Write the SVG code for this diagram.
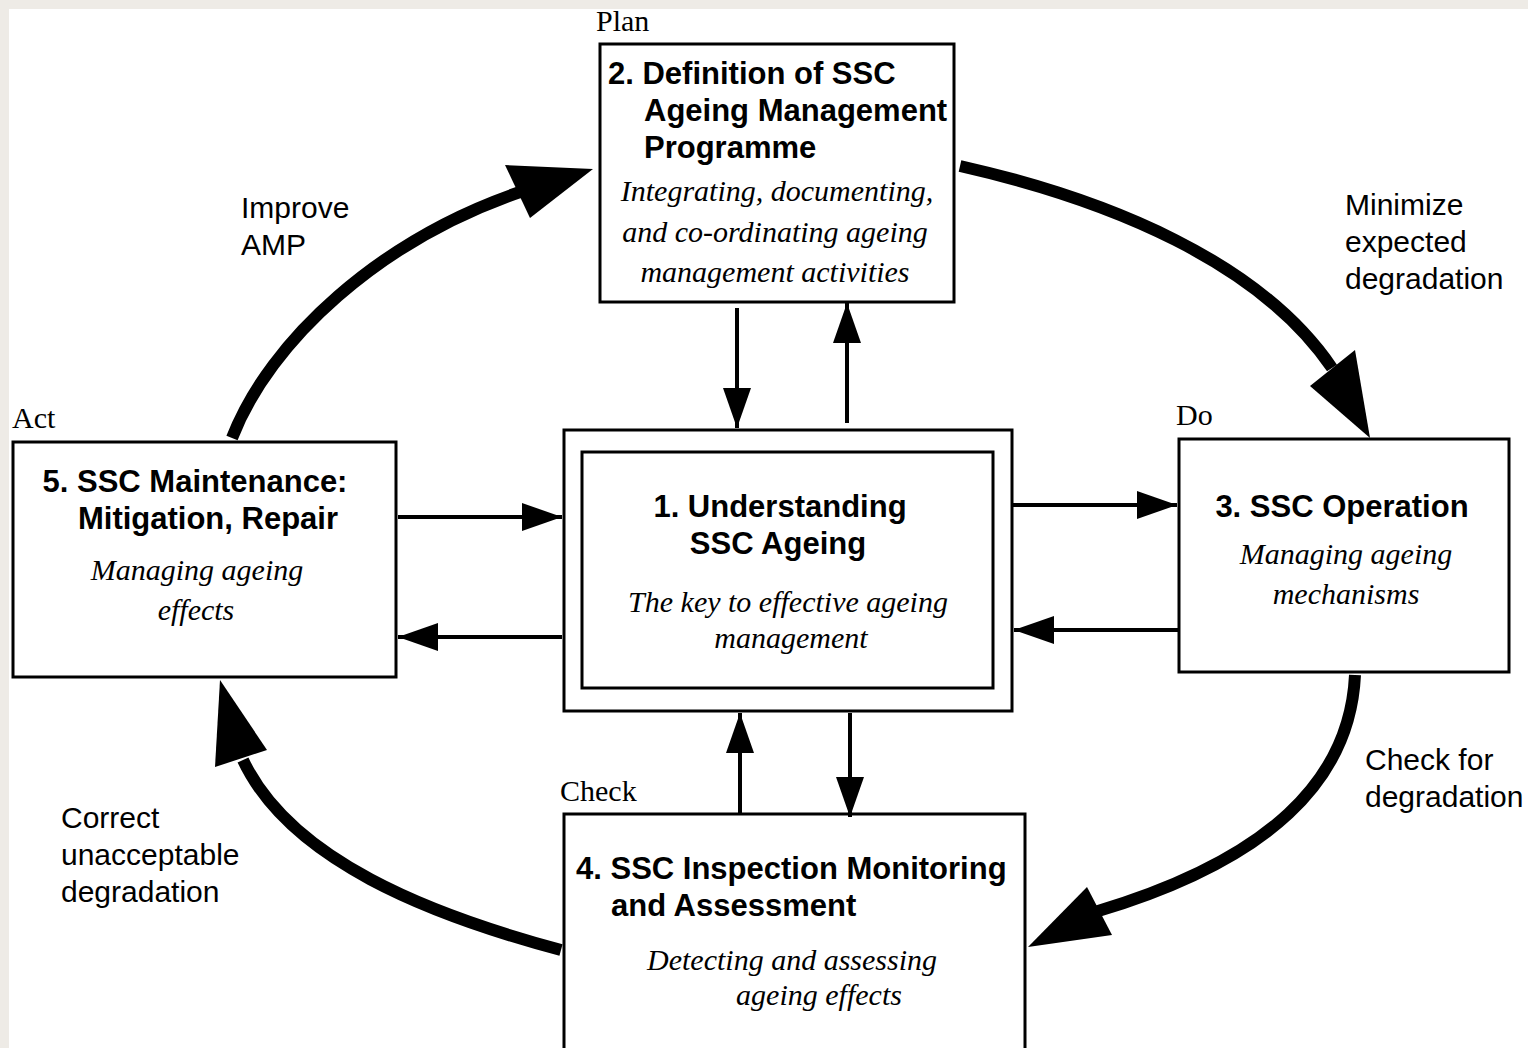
<svg xmlns="http://www.w3.org/2000/svg" width="1528" height="1048" viewBox="0 0 1528 1048">
<style>
.box{fill:#fff;stroke:#000;stroke-width:3}
.h{font-family:"Liberation Sans",Arial,sans-serif;font-weight:bold;font-size:31px;fill:#000}
.i{font-family:"Liberation Serif","Times New Roman",serif;font-style:italic;font-size:30px;fill:#000}
.t{font-family:"Liberation Serif","Times New Roman",serif;font-size:30px;fill:#000}
.l{font-family:"Liberation Sans",Arial,sans-serif;font-size:30px;fill:#000}
.c{text-anchor:middle}
.arr{stroke:#000;stroke-width:4;fill:none}
.curve{stroke:#000;stroke-width:12;fill:none}
.head{fill:#000}
</style>
<defs>
<marker id="ah" viewBox="0 0 10 7" refX="10" refY="3.5" markerWidth="10" markerHeight="7" markerUnits="strokeWidth" orient="auto">
<path d="M0,0 L10,3.5 L0,7 z" fill="#000"/>
</marker>
</defs>
<rect x="0" y="0" width="1528" height="1048" fill="#eeebe6"/>
<rect x="9" y="9" width="1519" height="1039" fill="#fff"/>

<text class="t" x="596" y="31">Plan</text>
<text class="t" x="12" y="428">Act</text>
<text class="t" x="1176" y="425">Do</text>
<text class="t" x="560" y="801">Check</text>

<g id="node2">
<rect class="box" x="600" y="44" width="354" height="258"/>
<text class="h" x="608" y="84">2. Definition of SSC</text>
<text class="h" x="644" y="121">Ageing Management</text>
<text class="h" x="644" y="158">Programme</text>
<text class="i c" x="777" y="201">Integrating, documenting,</text>
<text class="i c" x="775" y="242">and co-ordinating ageing</text>
<text class="i c" x="775" y="282">management activities</text>
</g>

<g id="node1">
<rect class="box" x="564" y="430" width="448" height="281"/>
<rect class="box" x="582" y="452" width="411" height="236"/>
<text class="h c" x="780" y="517">1. Understanding</text>
<text class="h c" x="778" y="554">SSC Ageing</text>
<text class="i c" x="788" y="612">The key to effective ageing</text>
<text class="i c" x="791" y="648">management</text>
</g>

<g id="node3">
<rect class="box" x="1179" y="439" width="330" height="233"/>
<text class="h c" x="1342" y="517">3. SSC Operation</text>
<text class="i c" x="1346" y="564">Managing ageing</text>
<text class="i c" x="1346" y="604">mechanisms</text>
</g>

<g id="node5">
<rect class="box" x="13" y="442" width="383" height="235"/>
<text class="h c" x="195" y="492">5. SSC Maintenance:</text>
<text class="h c" x="208" y="529">Mitigation, Repair</text>
<text class="i c" x="197" y="580">Managing ageing</text>
<text class="i c" x="196" y="620">effects</text>
</g>

<g id="node4">
<rect class="box" x="564" y="814" width="461" height="250"/>
<text class="h" x="576" y="879">4. SSC Inspection Monitoring</text>
<text class="h" x="611" y="916">and Assessment</text>
<text class="i c" x="792" y="970">Detecting and assessing</text>
<text class="i c" x="819" y="1005">ageing effects</text>
</g>

<g id="labels">
<text class="l" x="241" y="218">Improve</text>
<text class="l" x="241" y="255">AMP</text>
<text class="l" x="1345" y="215">Minimize</text>
<text class="l" x="1345" y="252">expected</text>
<text class="l" x="1345" y="289">degradation</text>
<text class="l" x="1365" y="770">Check for</text>
<text class="l" x="1365" y="807">degradation</text>
<text class="l" x="61" y="828">Correct</text>
<text class="l" x="61" y="865">unacceptable</text>
<text class="l" x="61" y="902">degradation</text>
</g>

<g id="connectors">
<line class="arr" x1="737" y1="308" x2="737" y2="428" marker-end="url(#ah)"/>
<line class="arr" x1="847" y1="423" x2="847" y2="303" marker-end="url(#ah)"/>
<line class="arr" x1="398" y1="517" x2="562" y2="517" marker-end="url(#ah)"/>
<line class="arr" x1="562" y1="637" x2="398" y2="637" marker-end="url(#ah)"/>
<line class="arr" x1="1013" y1="505" x2="1177" y2="505" marker-end="url(#ah)"/>
<line class="arr" x1="1178" y1="630" x2="1014" y2="630" marker-end="url(#ah)"/>
<line class="arr" x1="740" y1="813" x2="740" y2="713" marker-end="url(#ah)"/>
<line class="arr" x1="850" y1="713" x2="850" y2="817" marker-end="url(#ah)"/>

<path class="curve" d="M232,438 C270,340 380,240 520,192"/>
<polygon class="head" points="593,169 505,165 530,218"/>
<path class="curve" d="M960,166 C1110,200 1260,262 1332,368"/>
<polygon class="head" points="1370,438 1310,386 1355,350"/>
<path class="curve" d="M1355,675 C1350,780 1270,860 1095,912"/>
<polygon class="head" points="1028,947 1087,887 1112,935"/>
<path class="curve" d="M561,950 C430,915 290,860 243,760"/>
<polygon class="head" points="220,680 215,767 267,750"/>
</g>
</svg>
